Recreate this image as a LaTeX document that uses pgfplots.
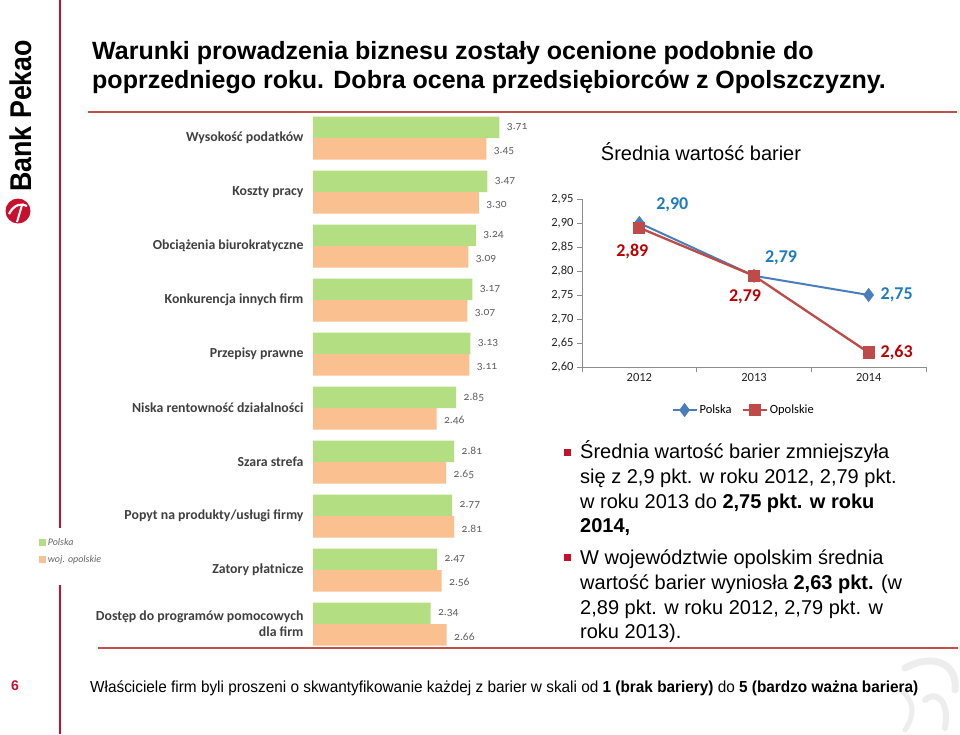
\documentclass[border=0pt]{standalone}
\usepackage{pgfplots}
\pgfplotsset{compat=1.18}
\usepackage{graphicx}
\usepackage{fontspec}
\setmainfont{Liberation Sans}
\newfontfamily\calfont{Carlito}
\newfontfamily\caloldfont[Numbers=OldStyle]{Carlito}
\definecolor{barG}{HTML}{B3DE81}
\definecolor{barO}{HTML}{FAC090}
\definecolor{lblue}{HTML}{4A7EBB}
\definecolor{lred}{HTML}{BE4B48}
\definecolor{tblue}{HTML}{1F7BC0}
\definecolor{tred}{HTML}{C00000}
\definecolor{rulec}{HTML}{C0504D}
\definecolor{vred}{HTML}{C8102E}
\definecolor{catgray}{HTML}{404040}
\begin{document}
\begin{tikzpicture}
\useasboundingbox (0pt,0pt) rectangle (960pt,-734pt);
\fill[white] (0pt,0pt) rectangle (960pt,-734pt);
\begin{scope}[x=1pt,y=-1pt]
% decorative swoosh bottom right
\draw[gray!14, line width=7pt, line cap=round] (905,668) .. controls (935,652) and (958,665) .. (955,690);
\draw[gray!14, line width=6pt, line cap=round] (925,700) .. controls (935,690) and (950,700) .. (945,728);
\draw[gray!14, line width=5pt, line cap=round] (900,690) .. controls (915,700) and (915,715) .. (905,730);
% rules
\draw[rulec, line width=1.4pt] (88,112) -- (957,112);
\draw[rulec, line width=1.4pt] (98,648) -- (958,648);
\draw[vred, line width=1.3pt] (60,0) -- (60,528);
\draw[vred, line width=1.3pt] (60,585) -- (60,734);
% logo
\node[rotate=90, anchor=base west, inner sep=0] at (31,192) {\resizebox{152pt}{\height}{\fontsize{30}{30}\selectfont\bfseries Bank Pekao}};
\fill[vred] (18,211) circle (12.5);
\draw[white, line width=2.2pt] (9,214) .. controls (14,204) and (22,203) .. (27,206);
\draw[white, line width=2pt] (22,205) -- (17,222);
% page number
\node[text=vred] at (15,686) {\fontsize{14}{16}\selectfont\bfseries 6};
% title
\node[anchor=base west, inner sep=0] at (92,59) {\fontsize{25}{29}\selectfont\bfseries Warunki prowadzenia biznesu zostały ocenione podobnie do};
\node[anchor=base west, inner sep=0] at (92,88) {\fontsize{25}{29}\selectfont\bfseries poprzedniego roku. Dobra ocena przedsiębiorców z Opolszczyzny.};
% footer
\node[anchor=base west, inner sep=0] at (90,692) {\resizebox{828pt}{\height}{\fontsize{16}{18}\selectfont Właściciele firm byli proszeni o skwantyfikowanie każdej z barier w skali od \textbf{1 (brak bariery)} do \textbf{5 (bardzo ważna bariera)}}};
% line chart title
\node at (701,152) {\fontsize{20}{24}\selectfont Średnia wartość barier};
% bullets
\fill[vred] (563.5,448.5) rectangle (570.5,455.5);
\fill[vred] (563.5,553.5) rectangle (570.5,560.5);
\begin{scope}[every node/.style={anchor=base west, inner sep=0, font=\fontsize{20}{24}\selectfont}]
\node at (580,458) {Średnia wartość barier zmniejszyła};
\node at (580,483) {się z 2,9 pkt. w roku 2012, 2,79 pkt.};
\node at (580,508) {w roku 2013 do \textbf{2,75 pkt. w roku}};
\node at (580,532) {\textbf{2014,}};
\node at (580,564) {W województwie opolskim średnia};
\node at (580,589) {wartość barier wyniosła \textbf{2,63 pkt.} (w};
\node at (580,614) {2,89 pkt. w roku 2012, 2,79 pkt. w};
\node at (580,638) {roku 2013).};
\end{scope}
\end{scope}

% ---------------- bar chart ----------------
\begin{axis}[
  at={(313pt,-651pt)}, anchor=south west,
  scale only axis, width=201pt, height=540pt,
  xbar, bar width=21.5pt,
  xmin=0, xmax=4, ymin=-0.5, ymax=9.5,
  axis line style={draw=none},
  xtick=\empty,
  ytick={0,...,9},
  yticklabels={{Dostęp do programów pomocowych\\dla firm},Zatory płatnicze,Popyt na produkty/usługi firmy,Szara strefa,Niska rentowność działalności,Przepisy prawne,Konkurencja innych firm,Obciążenia biurokratyczne,Koszty pracy,Wysokość podatków},
  ytick style={draw=none}, major tick length=0pt,
  yticklabel style={font=\calfont\bfseries\fontsize{13.8}{16}\selectfont, text=catgray, align=right, xshift=-6pt},
  point meta=x,
  nodes near coords={\pgfmathprintnumber[fixed,fixed zerofill,precision=2,assume math mode=true]{\pgfplotspointmeta}},
  every node near coord/.append style={font=\caloldfont\fontsize{11.5}{12}\selectfont, text=black!62, anchor=west, xshift=4pt},
  legend style={at={(-1.37,0.215)}, anchor=north west, draw=none, fill=white, font=\calfont\itshape\fontsize{10}{12}\selectfont, text=black!60, row sep=5pt, inner sep=1pt},
  legend cell align=left,
  legend image code/.code={\fill[draw=none] (0pt,-3.5pt) rectangle (7pt,3.5pt);},
]
\addplot[fill=barG, draw=none, bar shift=10.75pt] coordinates {
 (3.71,9) (3.47,8) (3.24,7) (3.17,6) (3.13,5) (2.85,4) (2.81,3) (2.77,2) (2.47,1) (2.34,0)};
\addplot[fill=barO, draw=none, bar shift=-10.75pt, every node near coord/.append style={yshift=-2pt}] coordinates {
 (3.45,9) (3.30,8) (3.09,7) (3.07,6) (3.11,5) (2.46,4) (2.65,3) (2.81,2) (2.56,1) (2.66,0)};
\legend{Polska, woj. opolskie}
\end{axis}

% ---------------- line chart ----------------
\begin{axis}[
  at={(582pt,-367pt)}, anchor=south west,
  scale only axis, width=344pt, height=168pt,
  xmin=-0.5, xmax=2.5, ymin=2.6, ymax=2.95,
  axis x line=bottom, axis y line=left,
  axis line style={-, draw=black!45, line width=0.8pt},
  tick align=outside, major tick length=5pt,
  tick style={draw=black!45, line width=0.8pt},
  xtick={-0.5,0.5,1.5,2.5}, xticklabels={},
  extra x ticks={0,1,2}, extra x tick labels={2012,2013,2014},
  extra x tick style={major tick length=0pt},
  ytick={2.6,2.65,2.7,2.75,2.8,2.85,2.9,2.95},
  yticklabel style={/pgf/number format/.cd, fixed, fixed zerofill, precision=2, use comma, assume math mode=true},
  ticklabel style={font=\calfont\fontsize{12.5}{14}\selectfont, text=black!85},
  xticklabel style={yshift=-3pt},
  legend columns=2,
  legend style={at={(0.47,-0.256)}, anchor=center, draw=none, font=\calfont\fontsize{12.5}{14}\selectfont, /tikz/every even column/.append style={column sep=8pt}},
  legend image code/.code={\draw[mark repeat=2,mark phase=2] plot coordinates {(0pt,0pt)(12pt,0pt)(24pt,0pt)};},
  point meta=y,
  nodes near coords={\pgfmathprintnumber[fixed,fixed zerofill,precision=2,use comma,assume math mode=true]{\pgfplotspointmeta}},
  visualization depends on={value \thisrow{dx} \as \dx},
  visualization depends on={value \thisrow{dy} \as \dy},
]
\addplot[color=lblue, line width=2pt, mark=diamond*, mark size=5.5pt, mark options={solid, fill=lblue},
  every node near coord/.append style={font=\calfont\bfseries\fontsize{18}{20}\selectfont, text=tblue, anchor=center, xshift=\dx pt, yshift=\dy pt}]
  table {
x y dx dy
0 2.90 33 18
1 2.79 27 18
2 2.75 28 0
};
\addplot[color=lred, line width=2.3pt, mark=square*, mark size=5pt, mark options={solid, fill=lred},
  every node near coord/.append style={font=\calfont\bfseries\fontsize{18}{20}\selectfont, text=tred, anchor=center, xshift=\dx pt, yshift=\dy pt}]
  table {
x y dx dy
0 2.89 -7 -24
1 2.79 -9 -21
2 2.63 28 0
};
\legend{Polska, Opolskie}
\end{axis}
\end{tikzpicture}
\end{document}
